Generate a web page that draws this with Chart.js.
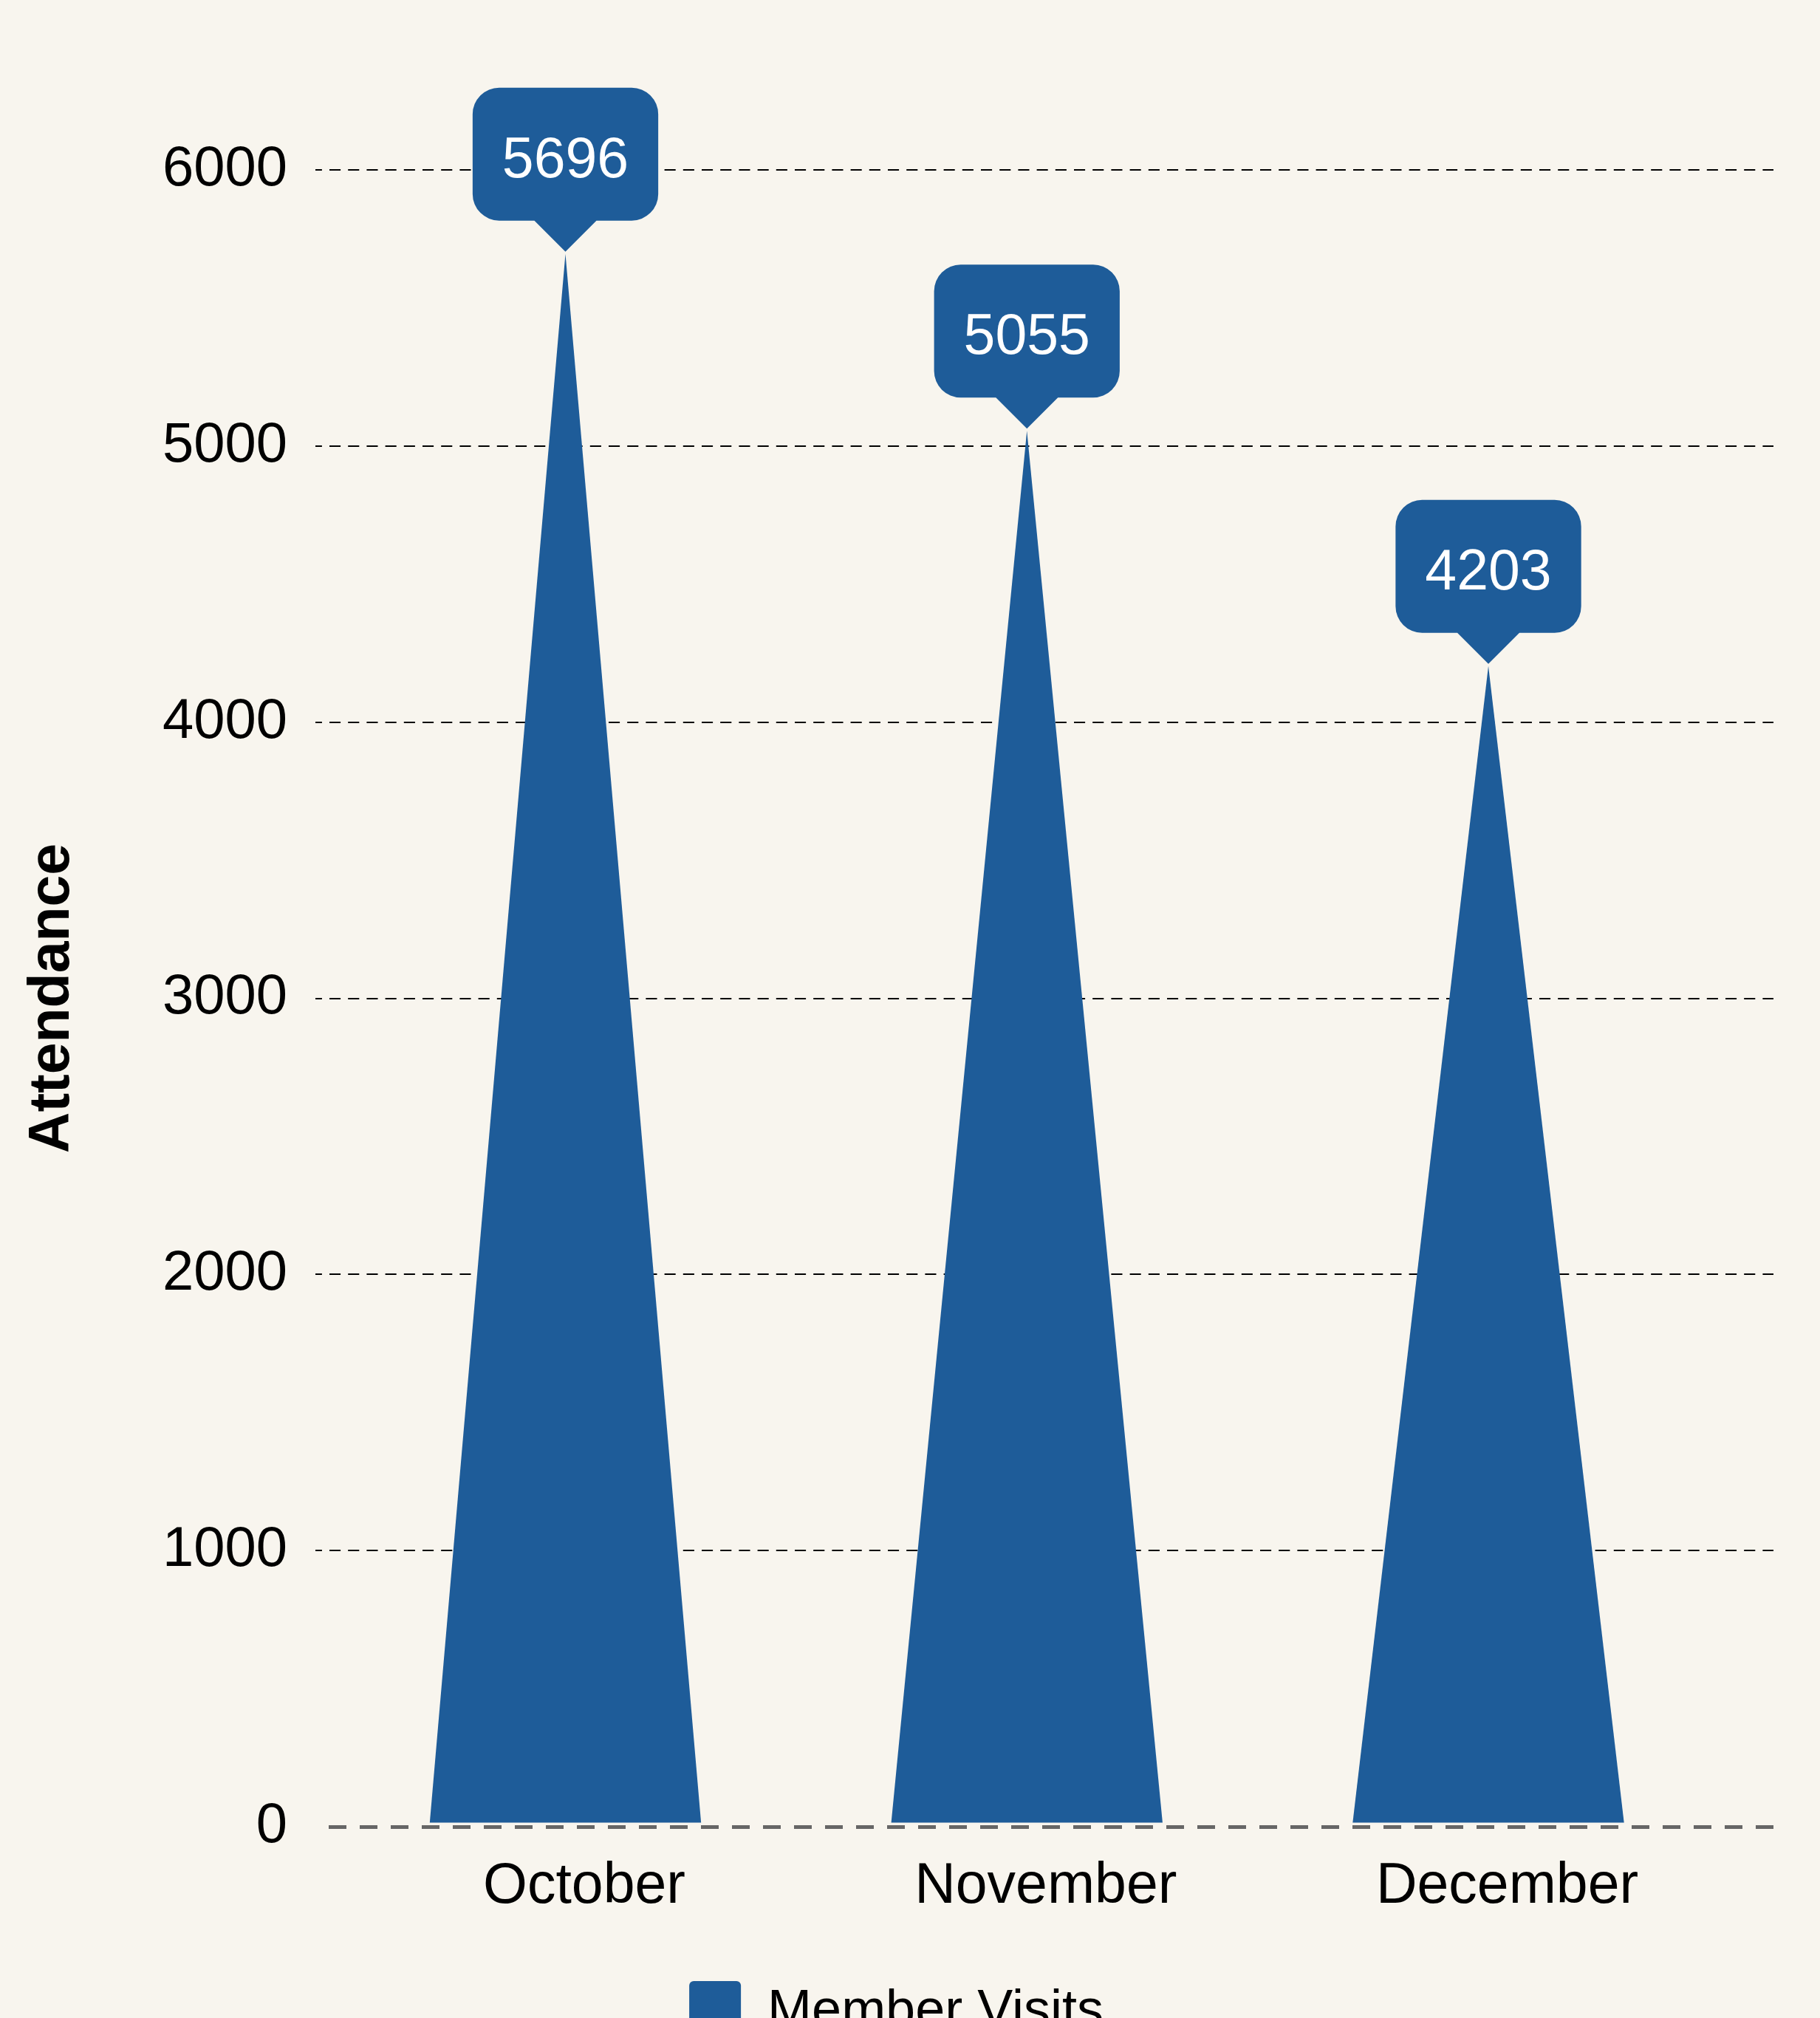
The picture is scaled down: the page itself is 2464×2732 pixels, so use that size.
<!DOCTYPE html>
<html>
<head>
<meta charset="utf-8">
<title>Member Visits</title>
<script src="https://cdn.jsdelivr.net/npm/chart.js@4.4.1/dist/chart.umd.min.js"></script>
<style>
  html, body { margin: 0; padding: 0; background: #f8f5ee; }
  #wrap { width: 2464px; height: 2732px; overflow: hidden; background: #f8f5ee; }
  canvas { display: block; }
</style>
</head>
<body>
<div id="wrap"><canvas id="chart" width="2464" height="2776"></canvas></div>
<script>
// Monthly attendance
const months = ['October', 'November', 'December'];
const memberVisits = [5696, 5055, 4203];
const yTicks = [0, 1000, 2000, 3000, 4000, 5000, 6000];

const FONT = "'Liberation Sans', Arial, Helvetica, sans-serif";
const BLUE = '#1e5c99';
const INK = '#000000';

// Each bar is painted as a triangle from its base up to its value.
const triangleBars = {
  id: 'triangleBars',
  beforeDatasetDraw(chart, args) {
    const ctx = chart.ctx;
    const ds = chart.data.datasets[args.index];
    ctx.save();
    ctx.fillStyle = ds.backgroundColor;
    args.meta.data.forEach(bar => {
      const p = bar.getProps(['x', 'y', 'base', 'width'], true);
      const half = p.width / 2;
      ctx.beginPath();
      ctx.moveTo(p.x - half, p.base - 3);
      ctx.lineTo(p.x, p.y);
      ctx.lineTo(p.x + half, p.base - 3);
      ctx.closePath();
      ctx.fill();
    });
    ctx.restore();
    return false;
  }
};

// Speech-bubble value label above each peak.
const valueCallouts = {
  id: 'valueCallouts',
  afterDatasetsDraw(chart) {
    const ctx = chart.ctx;
    const meta = chart.getDatasetMeta(0);
    const ds = chart.data.datasets[0];
    ctx.save();
    ctx.font = '77px ' + FONT;
    meta.data.forEach((bar, i) => {
      const text = String(ds.data[i].y);
      const tipY = bar.y - 3;
      const bottom = tipY - 42;
      const h = 180;
      const w = ctx.measureText(text).width + 80;
      const left = bar.x - w / 2;
      const right = bar.x + w / 2;
      const top = bottom - h;
      const r = 36;
      ctx.beginPath();
      ctx.moveTo(left + r, top);
      ctx.lineTo(right - r, top);
      ctx.arcTo(right, top, right, top + r, r);
      ctx.lineTo(right, bottom - r);
      ctx.arcTo(right, bottom, right - r, bottom, r);
      ctx.lineTo(bar.x + 42, bottom);
      ctx.lineTo(bar.x, tipY);
      ctx.lineTo(bar.x - 42, bottom);
      ctx.lineTo(left + r, bottom);
      ctx.arcTo(left, bottom, left, bottom - r, r);
      ctx.lineTo(left, top + r);
      ctx.arcTo(left, top, left + r, top, r);
      ctx.closePath();
      ctx.fillStyle = BLUE;
      ctx.fill();
      ctx.fillStyle = '#ffffff';
      ctx.textAlign = 'center';
      ctx.textBaseline = 'alphabetic';
      ctx.fillText(text, bar.x, bottom - 59);
    });
    ctx.restore();
  }
};

const isZero = c => c.tick && c.tick.value === 0;

new Chart(document.getElementById('chart'), {
  type: 'bar',
  data: {
    datasets: [{
      label: 'Member Visits',
      data: memberVisits.map((v, i) => ({ x: i, y: v })),
      backgroundColor: BLUE,
      borderWidth: 0,
      categoryPercentage: 0.6,
      barPercentage: 0.98
    }]
  },
  options: {
    responsive: false,
    animation: false,
    devicePixelRatio: 1,
    layout: { padding: { top: 230, right: 63, bottom: 0, left: 26 } },
    plugins: {
      legend: {
        position: 'bottom',
        labels: {
          font: { family: FONT, size: 72 },
          color: INK,
          boxWidth: 70,
          boxHeight: 84,
          padding: 10,
          useBorderRadius: true,
          borderRadius: 6
        }
      },
      tooltip: { enabled: false }
    },
    scales: {
      x: {
        type: 'linear',
        offset: false,
        bounds: 'data',
        min: -0.5418,
        max: 2.6178,
        grid: { display: false, drawTicks: false, offset: false },
        border: { display: false },
        afterBuildTicks: s => { s.ticks = months.map((m, i) => ({ value: i })); },
        afterFit: s => { s.height = 199; },
        ticks: {
          callback: v => months[v],
          font: { family: FONT, size: 77 },
          color: INK,
          padding: 36,
          labelOffset: 25.5,
          maxRotation: 0,
          autoSkip: false
        }
      },
      y: {
        min: 0,
        max: 6000,
        afterBuildTicks: s => { s.ticks = yTicks.map(v => ({ value: v })); },
        afterFit: s => { s.width = 401; },
        grid: {
          drawTicks: false,
          color: c => isZero(c) ? '#666666' : INK,
          lineWidth: c => isZero(c) ? 5 : 2
        },
        border: {
          display: false,
          dash: c => isZero(c) ? [24, 18] : [15.1, 10.1],
          dashOffset: c => isZero(c) ? 24 : 6.2
        },
        ticks: {
          callback: v => String(v),
          font: { family: FONT, size: 76 },
          color: INK,
          padding: 38
        },
        title: {
          display: true,
          text: 'Attendance',
          font: { family: FONT, size: 77, weight: 'bold' },
          color: INK,
          padding: 0
        }
      }
    }
  },
  plugins: [triangleBars, valueCallouts]
});
</script>
</body>
</html>
